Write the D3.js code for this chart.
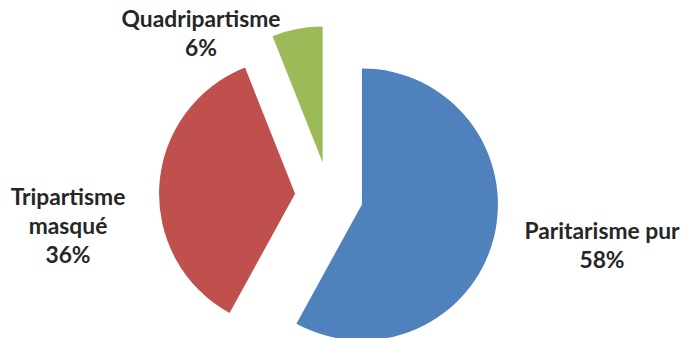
<!DOCTYPE html>
<html>
<head>
<meta charset="utf-8">
<script src="https://cdn.jsdelivr.net/npm/d3@7"></script>
<style>
  html, body { margin: 0; padding: 0; background: #fff; }
  svg { display: block; }
</style>
</head>
<body>
<svg id="chart" width="682" height="338"></svg>
<script>
const categories = ["Paritarisme pur", "Tripartisme masqué", "Quadripartisme"];
const values = [58, 36, 6];
const valueLabels = ["58%", "36%", "6%"];
const colors = ["#4F81BD", "#C0504D", "#9BBB59"];

// layout (not data)
const W = 682, H = 338;
const cx = 329, cy = 196, radius = 136, explode = 34;
const labelLines = [
  ["Paritarisme pur"],
  ["Tripartisme", "masqué"],
  ["Quadripartisme"]
];
const labelAnchor = [ [602, 239], [68, 205], [201, 27] ];
const lineH = 29;

const svg = d3.select("#chart");
const pie = d3.pie().sort(null).value(d => d)(values);
const arc = d3.arc().innerRadius(0).outerRadius(radius);

const g = svg.append("g").attr("transform", `translate(${cx},${cy})`);
g.selectAll("path.slice").data(pie).enter().append("path")
  .attr("class", "slice")
  .attr("d", arc)
  .attr("fill", (d, i) => colors[i])
  .attr("transform", d => {
    const a = (d.startAngle + d.endAngle) / 2;
    return `translate(${explode * Math.sin(a)},${-explode * Math.cos(a)})`;
  });

const labels = svg.selectAll("text.lbl").data(pie).enter().append("text")
  .attr("class", "lbl")
  .attr("text-anchor", "middle")
  .attr("font-family", "Lato, 'Open Sans', sans-serif")
  .attr("font-weight", "bold")
  .attr("font-size", 22.8)
  .attr("fill", "#262626");
labels.each(function(d, i) {
  const t = d3.select(this);
  const lines = labelLines[i].concat([valueLabels[i]]);
  lines.forEach((ln, k) => {
    t.append("tspan")
      .attr("x", labelAnchor[i][0])
      .attr("y", labelAnchor[i][1] + k * lineH)
      .text(ln);
  });
});
</script>
</body>
</html>
